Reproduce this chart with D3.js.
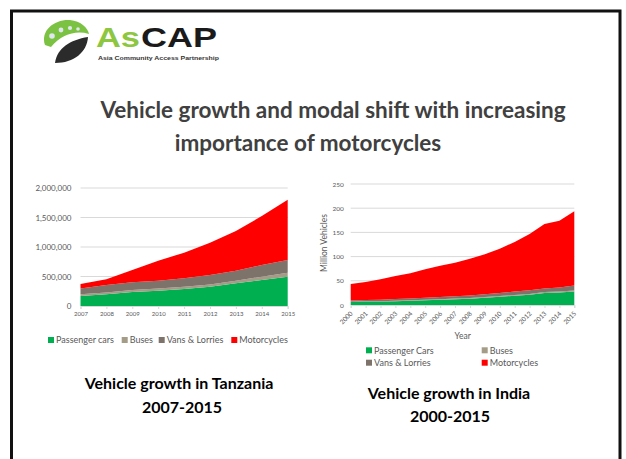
<!DOCTYPE html>
<html lang="en">
	<head>
		<meta charset="utf-8">
		<title>Vehicle growth</title>
		<script type="text/javascript" src="https://cdn.jsdelivr.net/npm/d3@7"></script>
		<style type="text/css">
			body{
				margin: 0;
				background: white;
			}
			text{
				font-family: Lato, "Liberation Sans", sans-serif;
			}
			.title{
				font-size: 22.5px;
				font-weight: bold;
				fill: #404040;
			}
			.sub{
				font-size: 16px;
				font-weight: bold;
				fill: #000;
			}
			.tick text, .lab{
				fill: #595959;
			}
			.legend{
				font-size: 9px;
				fill: #595959;
			}
		</style>
	</head>
	<body>
		<div class="chart"></div>
		<script type="text/javascript">

			// Tanzania 2007-2015 (vehicles)
			var tzYears = [2007, 2008, 2009, 2010, 2011, 2012, 2013, 2014, 2015];
			var tzCars = [169000, 198000, 237000, 260000, 288000, 327000, 384000, 441000, 497000];
			var tzBuses = [32000, 30000, 34000, 38000, 40000, 38000, 45000, 56000, 67000];
			var tzVans = [97000, 128000, 130000, 130000, 142000, 160000, 170000, 198000, 216000];
			var tzMotos = [73000, 96000, 210000, 339000, 434000, 548000, 672000, 830000, 1020000];
			var tzTicks = [0, 500000, 1000000, 1500000, 2000000];
			var tzLegend = ["Passenger cars", "Buses", "Vans & Lorries", "Motorcycles"];

			// India 2000-2015 (million vehicles)
			var inYears = [2000, 2001, 2002, 2003, 2004, 2005, 2006, 2007, 2008, 2009, 2010, 2011, 2012, 2013, 2014, 2015];
			var inCars = [6, 7, 7, 8, 9, 10, 11, 12, 13, 15, 17, 19, 21, 25, 26, 28];
			var inBuses = [0.6, 0.6, 0.6, 0.7, 0.7, 0.9, 1.0, 1.2, 1.3, 1.4, 1.5, 1.6, 1.7, 1.7, 1.8, 1.9];
			var inVans = [2.7, 2.9, 3.0, 3.5, 3.7, 4.0, 4.4, 5.0, 5.3, 5.6, 6.4, 7.1, 7.7, 7.6, 8.6, 10.5];
			var inMotos = [34.1, 37.0, 42.4, 47.8, 52.0, 58.8, 64.9, 69.3, 76.1, 82.7, 91.5, 102.5, 116.3, 133.1, 137.8, 153.1];
			var inTicks = [0, 50, 100, 150, 200, 250];
			var inLegend = ["Passenger Cars", "Buses", "Vans & Lorries", "Motorcycles"];

			var keys = ["cars", "buses", "vans", "motos"];
			var colors = ["#00b050", "#a49c86", "#7e736b", "#ff0000"];

			var w = 626;
			var h = 459;

			var svg = d3.select("div.chart")
						.append("svg")
						.attr("width", w)
						.attr("height", h);

			// slide frame
			svg.append("rect")
				.attr("x", 11.5)
				.attr("y", 11)
				.attr("width", 608.5)
				.attr("height", 470)
				.attr("fill", "none")
				.attr("stroke", "#111")
				.attr("stroke-width", 3);

			// logo
			var logo = svg.append("g");
			logo.append("path")
				.attr("d", "M45,45 C40,30 55,19 70,20 C81,21 88,28 89,34 C76,30 62,34 51,47 Z")
				.attr("fill", "#7cc242");
			logo.append("path")
				.attr("d", "M55,63 C57,48 70,40 88,37 C87,52 74,63 55,63 Z")
				.attr("fill", "#2b2b2b");
			[[52, 36, 2.8], [61, 30, 2.4], [70, 28, 2.1], [78, 29, 1.8]].forEach(function(c){
				logo.append("circle")
					.attr("cx", c[0]).attr("cy", c[1]).attr("r", c[2])
					.attr("fill", "#dfe6ef");
			});
			logo.append("text")
				.attr("x", 96)
				.attr("y", 47)
				.attr("textLength", 44)
				.attr("lengthAdjust", "spacingAndGlyphs")
				.style("font-family", "'Liberation Sans', Arial, sans-serif")
				.style("font-size", "28px")
				.style("font-weight", "bold")
				.attr("fill", "#8dc63f")
				.text("As");
			logo.append("text")
				.attr("x", 141)
				.attr("y", 47)
				.attr("textLength", 76)
				.attr("lengthAdjust", "spacingAndGlyphs")
				.style("font-family", "'Liberation Sans', Arial, sans-serif")
				.style("font-size", "28px")
				.style("font-weight", "bold")
				.attr("fill", "#1a1a1a")
				.text("CAP");
			logo.append("text")
				.attr("x", 98)
				.attr("y", 59.5)
				.attr("textLength", 121)
				.attr("lengthAdjust", "spacingAndGlyphs")
				.style("font-family", "'Liberation Sans', Arial, sans-serif")
				.style("font-size", "5.5px")
				.style("font-weight", "bold")
				.attr("fill", "#333")
				.text("Asia Community Access Partnership");

			// titles
			svg.append("text").attr("class", "title").attr("x", 333).attr("y", 118)
				.attr("text-anchor", "middle").text("Vehicle growth and modal shift with increasing");
			svg.append("text").attr("class", "title").attr("x", 308).attr("y", 151)
				.attr("text-anchor", "middle").text("importance of motorcycles");

			function rows(years, a, b, c, d){
				return years.map(function(y, i){
					return {year: y, cars: a[i], buses: b[i], vans: c[i], motos: d[i]};
				});
			}

			function drawChart(opt){
				var xScale = d3.scaleLinear().domain(opt.xDomain).range(opt.xRange);
				var yScale = d3.scaleLinear().domain(opt.yDomain).range(opt.yRange);

				var g = svg.append("g");

				// gridlines
				g.selectAll("line.grid")
					.data(opt.yTicks.slice(1))
					.enter()
					.append("line")
					.attr("x1", opt.xRange[0])
					.attr("x2", opt.xRange[1])
					.attr("y1", (d) => yScale(d))
					.attr("y2", (d) => yScale(d))
					.attr("stroke", "#d9d9d9")
					.attr("stroke-width", 1);

				var series = d3.stack().keys(keys)(opt.data);
				var area = d3.area()
							.x((d) => xScale(d.data.year))
							.y0((d) => yScale(d[0]))
							.y1((d) => yScale(d[1]));

				g.selectAll("path.area")
					.data(series)
					.enter()
					.append("path")
					.attr("d", area)
					.attr("fill", (d, i) => colors[i]);

				var yAxis = d3.axisLeft(yScale)
							.tickValues(opt.yTicks)
							.tickSize(0)
							.tickPadding(opt.yPad)
							.tickFormat(opt.yFormat);

				g.append("g")
					.attr("transform", "translate(" + opt.xRange[0] + ",0)")
					.call(yAxis)
					.call((s) => s.select(".domain").remove())
					.selectAll("text")
					.style("font-size", opt.yFont);

				var xAxis = d3.axisBottom(xScale)
							.tickValues(opt.data.map((d) => d.year))
							.tickSize(3)
							.tickPadding(3)
							.tickFormat(d3.format("d"));

				var xg = g.append("g")
					.attr("transform", "translate(0," + opt.yRange[0] + ")")
					.call(xAxis);
				xg.select(".domain").attr("stroke", "#d9d9d9");
				xg.selectAll(".tick line").attr("stroke", "#d9d9d9");
				xg.selectAll("text").style("font-size", opt.xFont);
				if (opt.rotate){
					xg.selectAll("text")
						.attr("text-anchor", "end")
						.attr("dy", "0")
						.attr("y", 0)
						.attr("transform", "translate(2,9) rotate(-45)");
				}

				return g;
			}

			// Tanzania
			drawChart({
				data: rows(tzYears, tzCars, tzBuses, tzVans, tzMotos),
				xDomain: [2007, 2015], xRange: [80.5, 287.7],
				yDomain: [0, 2000000], yRange: [306, 188],
				yTicks: tzTicks, yFormat: d3.format(","), yPad: 9,
				yFont: "8px", xFont: "6px", rotate: false
			});

			var leg1 = svg.append("g").attr("transform", "translate(0,340)");
			var leg1X = [48, 121.7, 158.7, 231.3];
			tzLegend.forEach(function(t, i){
				leg1.append("rect").attr("x", leg1X[i]).attr("y", -3).attr("width", 6).attr("height", 6)
					.attr("fill", colors[i]);
				leg1.append("text").attr("class", "legend").attr("x", leg1X[i] + 8).attr("y", 3.2).text(t);
			});

			// India
			var ig = drawChart({
				data: rows(inYears, inCars, inBuses, inVans, inMotos),
				xDomain: [2000, 2015], xRange: [350.7, 574.3],
				yDomain: [0, 250], yRange: [305, 184],
				yTicks: inTicks, yFormat: d3.format("d"), yPad: 7,
				yFont: "6.5px", xFont: "6.5px", rotate: true
			});

			ig.append("text").attr("class", "lab").attr("x", 462.7).attr("y", 339)
				.attr("text-anchor", "middle").style("font-size", "8.5px").text("Year");
			ig.append("text").attr("class", "lab")
				.attr("transform", "translate(327,243) rotate(-90)")
				.attr("text-anchor", "middle").style("font-size", "8.5px").text("Million Vehicles");

			var leg2X = [366, 481.7, 366, 481.7];
			var leg2Y = [350.3, 350.3, 362.7, 362.7];
			inLegend.forEach(function(t, i){
				svg.append("rect").attr("x", leg2X[i]).attr("y", leg2Y[i] - 3).attr("width", 6).attr("height", 6)
					.attr("fill", colors[i]);
				svg.append("text").attr("class", "legend").attr("x", leg2X[i] + 8).attr("y", leg2Y[i] + 3.2).text(t);
			});

			// subtitles
			svg.append("text").attr("class", "sub").attr("x", 179).attr("y", 389)
				.attr("text-anchor", "middle").text("Vehicle growth in Tanzania");
			svg.append("text").attr("class", "sub").attr("x", 182).attr("y", 413)
				.attr("text-anchor", "middle").text("2007-2015");
			svg.append("text").attr("class", "sub").attr("x", 449).attr("y", 399)
				.attr("text-anchor", "middle").text("Vehicle growth in India");
			svg.append("text").attr("class", "sub").attr("x", 450).attr("y", 422)
				.attr("text-anchor", "middle").text("2000-2015");

		</script>
	</body>
</html>
